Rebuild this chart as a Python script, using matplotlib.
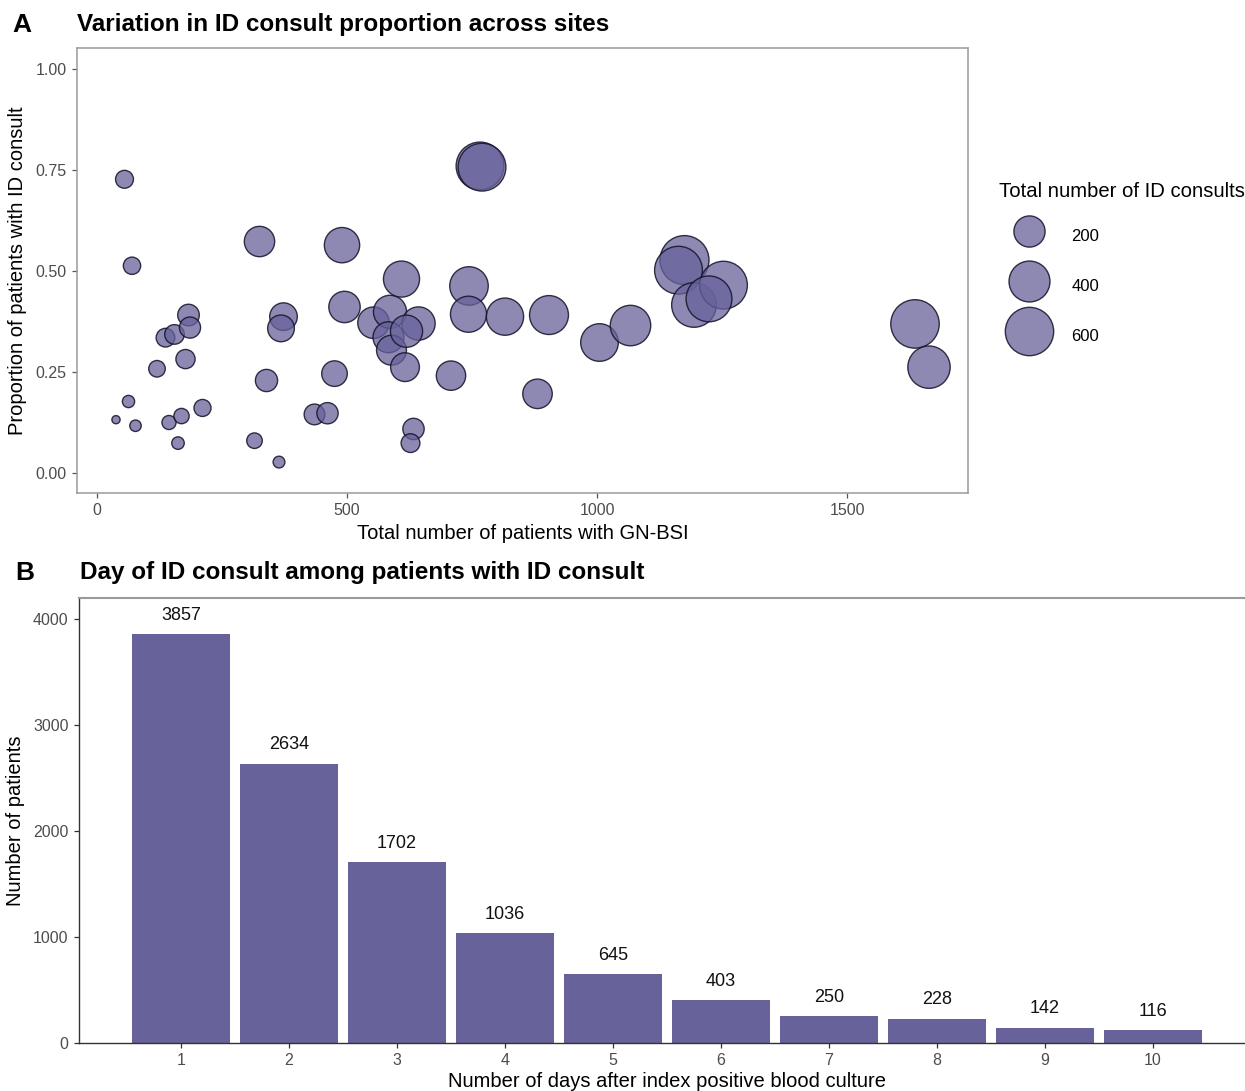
import numpy as np
import matplotlib
matplotlib.use("Agg")
import matplotlib.pyplot as plt
from matplotlib.lines import Line2D

plt.rcParams['font.family'] = ['Liberation Sans', 'DejaVu Sans']

# ---------------- Data ----------------
# Panel A: sites
site_patients = [55, 70, 63, 38, 77, 120, 137, 155, 183, 186, 177, 144, 169, 162, 211,
                 325, 373, 368, 339, 315, 364, 490, 495, 475, 435, 461,
                 553, 586, 583, 589, 609, 643, 619, 616, 633, 627, 708,
                 744, 743, 766, 770, 816, 904, 881, 1005, 1067,
                 1175, 1163, 1194, 1253, 1224, 1636, 1664]
site_prop = [0.727, 0.513, 0.177, 0.132, 0.117, 0.258, 0.335, 0.343, 0.391, 0.360, 0.282,
             0.125, 0.141, 0.074, 0.161,
             0.573, 0.387, 0.358, 0.229, 0.080, 0.027, 0.564, 0.411, 0.246, 0.145, 0.148,
             0.372, 0.399, 0.336, 0.304, 0.480, 0.370, 0.351, 0.262, 0.109, 0.074, 0.241,
             0.463, 0.393, 0.760, 0.757, 0.387, 0.391, 0.196, 0.323, 0.365,
             0.527, 0.502, 0.416, 0.465, 0.431, 0.369, 0.262]
legend_consults = [200, 400, 600]

# Panel B: day of ID consult
days = list(range(1, 11))
day_counts = [3857, 2634, 1702, 1036, 645, 403, 250, 228, 142, 116]

# ---------------- Style ----------------
PURPLE = '#67629a'
FILL = (0x67 / 255, 0x62 / 255, 0x9a / 255, 0.75)
EDGE = (0.08, 0.07, 0.16, 0.85)
TICKLAB = '#4d4d4d'
BORDER = '#9a9a9a'

consults = np.array(site_patients) * np.array(site_prop)
vmin, vmax = consults.min(), consults.max()


def diam_pt(v):
    v = np.asarray(v, dtype=float)
    return 5.88 * (1 + 5 * np.sqrt(np.clip((v - vmin) / (vmax - vmin), 0, 1)))


W, H = 1245, 1091
fig = plt.figure(figsize=(W / 100, H / 100), dpi=100)


def fx(px):
    return px / W


def fy(py):
    return 1 - py / H


# ---------------- Panel A ----------------
axA = fig.add_axes([fx(77), fy(493), fx(968) - fx(77), fy(48) - fy(493)])
axA.scatter(site_patients, site_prop, s=diam_pt(consults) ** 2, facecolor=FILL,
            edgecolor=EDGE, linewidth=1.0, zorder=3)
axA.set_xlim(-40, 1742)
axA.set_ylim(-0.0495, 1.052)
axA.set_xticks([0, 500, 1000, 1500])
axA.set_yticks([0, 0.25, 0.5, 0.75, 1.0])
axA.set_yticklabels(['0.00', '0.25', '0.50', '0.75', '1.00'])
for sp in axA.spines.values():
    sp.set_color(BORDER)
    sp.set_linewidth(1.1)
axA.tick_params(axis='both', length=3.5, width=0.9, color='#555555', labelcolor=TICKLAB,
                labelsize=11.5, pad=4)
axA.set_xlabel('Total number of patients with GN-BSI', fontsize=14.5, labelpad=4)
axA.set_ylabel('Proportion of patients with ID consult', fontsize=14.5, labelpad=6)

handles = [Line2D([], [], marker='o', linestyle='', markersize=float(diam_pt(v)),
                  markerfacecolor=FILL, markeredgecolor=EDGE, markeredgewidth=1.0)
           for v in legend_consults]
leg = fig.legend(handles, [str(v) for v in legend_consults], title='Total number of ID consults',
                 loc='upper left', bbox_to_anchor=(fx(999), fy(182)), frameon=False,
                 borderpad=0, borderaxespad=0, fontsize=12, title_fontsize=14.6,
                 handlelength=3.6, handletextpad=0.75, handleheight=2.4, labelspacing=1.2,
                 alignment='left')

fig.text(fx(12), fy(25), 'A', fontsize=19, fontweight='bold', va='center', ha='left')
fig.text(fx(77), fy(25), 'Variation in ID consult proportion across sites', fontsize=17.5,
         fontweight='bold', va='center', ha='left')

# ---------------- Panel B ----------------
axB = fig.add_axes([fx(79), fy(1042.7), fx(1255) - fx(79), fy(598) - fy(1042.7)])
axB.bar(days, day_counts, width=0.9, color=PURPLE, zorder=2)
for d, c in zip(days, day_counts):
    axB.annotate(str(c), (d, c), xytext=(0, 7.5), textcoords='offset points', ha='center',
                 va='bottom', fontsize=13, color='#111111')
axB.set_xlim(0.055, 10.945)
axB.set_ylim(0, 4200)
axB.set_xticks(days)
axB.set_yticks([0, 1000, 2000, 3000, 4000])
axB.spines['top'].set_color(BORDER)
axB.spines['top'].set_linewidth(1.5)
axB.spines['right'].set_visible(False)
for s in ['left', 'bottom']:
    axB.spines[s].set_color('#333333')
    axB.spines[s].set_linewidth(1.0)
axB.tick_params(axis='both', length=3.5, width=0.9, color='#333333', labelcolor=TICKLAB,
                labelsize=11.5, pad=4)
axB.set_xlabel('Number of days after index positive blood culture', fontsize=14.5, labelpad=3)
axB.set_ylabel('Number of patients', fontsize=14.5, labelpad=6)

fig.text(fx(15), fy(573), 'B', fontsize=19, fontweight='bold', va='center', ha='left')
fig.text(fx(80), fy(573), 'Day of ID consult among patients with ID consult', fontsize=17.5,
         fontweight='bold', va='center', ha='left')

fig.savefig('out.png', dpi=100)
